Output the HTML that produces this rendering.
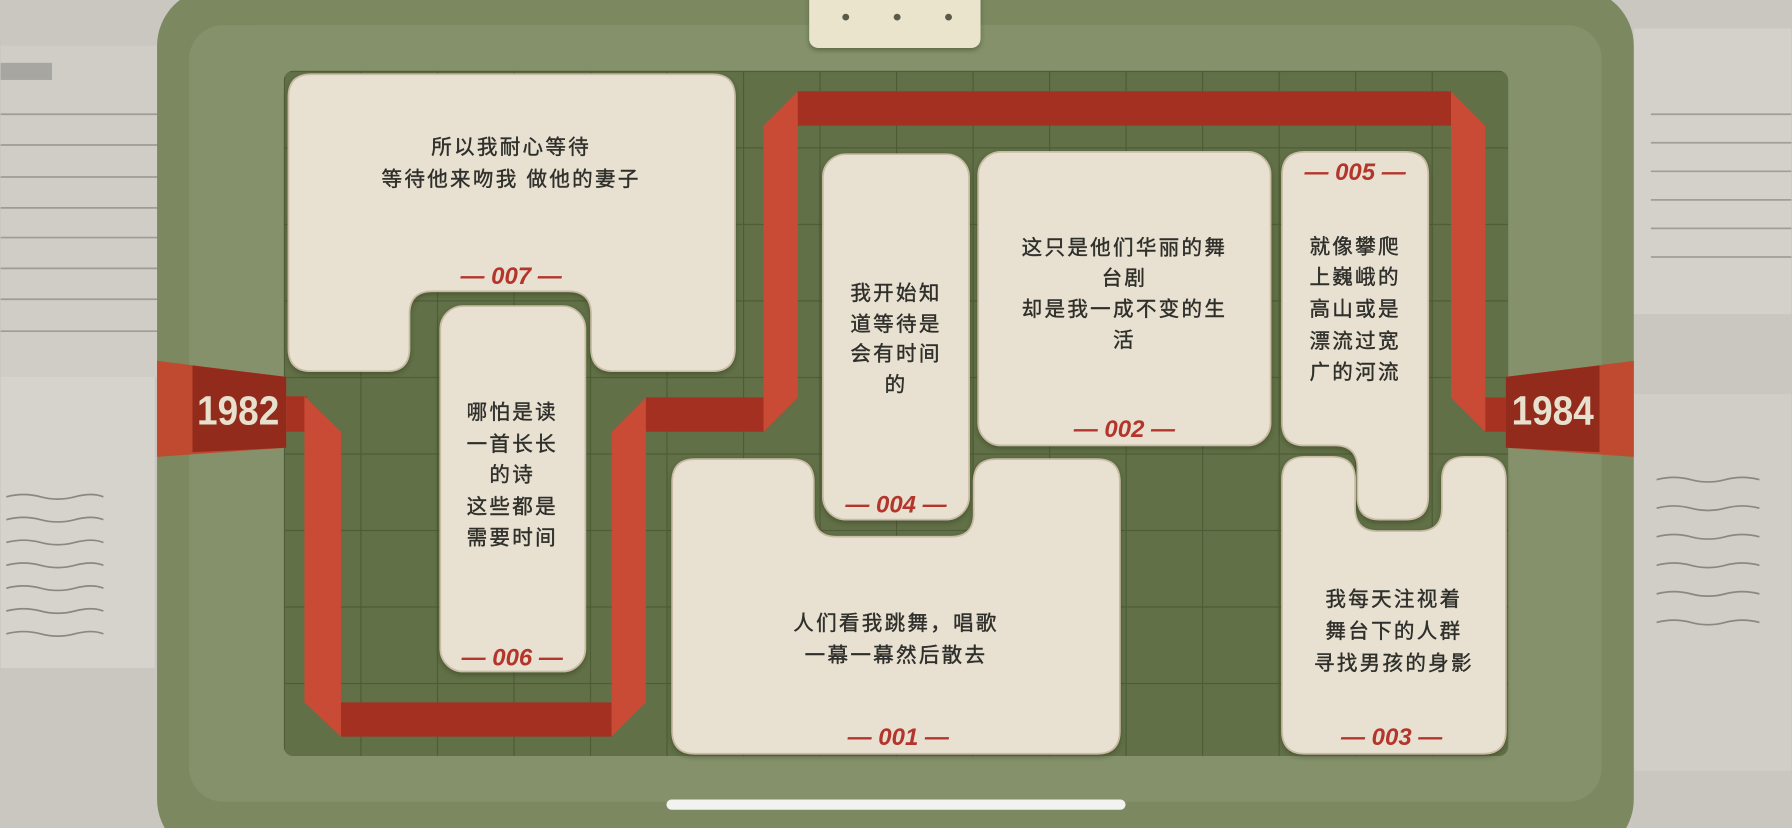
<!DOCTYPE html>
<html><head><meta charset="utf-8"><style>
html,body{margin:0;padding:0;width:1792px;height:828px;overflow:hidden;background:#c8c6bf}
svg{display:block}
.t{font-family:"Liberation Sans","Noto Sans CJK SC","WenQuanYi Zen Hei",sans-serif;font-size:18px;fill:#2f2f2b;stroke:#2f2f2b;stroke-width:0.35;text-anchor:middle;dominant-baseline:middle;letter-spacing:2px}
.n{font-family:"Liberation Sans",sans-serif;font-size:21px;font-style:italic;font-weight:bold;fill:#b4352b;text-anchor:middle;dominant-baseline:middle}
.y{font-family:"Liberation Sans",sans-serif;font-size:36px;font-weight:bold;fill:#e6e0cc;text-anchor:middle;dominant-baseline:middle}
</style></head><body>
<svg width="1792" height="828" viewBox="0 0 1568 725" xmlns="http://www.w3.org/2000/svg">
<defs>
<pattern id="g" x="248" y="62" width="67" height="67" patternUnits="userSpaceOnUse">
<rect width="67" height="67" fill="#617047"/>
<path d="M0 0H67M0 0V67" stroke="#4d5b36" stroke-width="2"/>
</pattern>
<filter id="sh" x="-10%" y="-10%" width="120%" height="120%"><feDropShadow dx="0" dy="2" stdDeviation="2" flood-color="#2a3318" flood-opacity="0.45"/></filter>
</defs>
<rect width="1568" height="725" fill="#c9c7c0"/>
<rect x="0" y="40" width="140" height="290" fill="#cfcdc6"/>
<g stroke="#9e9c96" stroke-width="1.5">
<path d="M0 100H140M0 127H140M0 155H140M0 182H140M0 208H140M0 235H140M0 262H140M0 290H140"/>
</g>
<rect x="0" y="55" width="45" height="15" fill="#a8a6a0"/>
<rect x="0" y="330" width="135" height="255" fill="#d5d3cc"/>
<g stroke="#8a8884" stroke-width="1.5" fill="none">
<path d="M5 495q15-4 30 0t30 0t25 0M5 515q15-4 30 0t30 0t25 0M5 535q15-4 30 0t30 0t25 0M5 555q15-4 30 0t30 0t25 0M5 475q15-4 30 0t30 0t25 0M5 455q15-4 30 0t30 0t25 0M5 435q15-4 30 0t30 0t25 0"/>
</g>
<rect x="1430" y="25" width="138" height="250" fill="#d3d1ca"/>
<g stroke="#a09e98" stroke-width="1.5"><path d="M1445 100H1568M1445 125H1568M1445 150H1568M1445 175H1568M1445 200H1568M1445 225H1568"/></g>
<rect x="1430" y="345" width="138" height="330" fill="#d0cec7"/>
<g stroke="#8a8884" stroke-width="1.5" fill="none"><path d="M1450 420q15-4 30 0t30 0t30 0M1450 445q15-4 30 0t30 0t30 0M1450 470q15-4 30 0t30 0t30 0M1450 495q15-4 30 0t30 0t30 0M1450 520q15-4 30 0t30 0t30 0M1450 545q15-4 30 0t30 0t30 0"/></g>
<rect x="137" y="-10" width="1293" height="760" rx="50" fill="#7b8860"/>
<rect x="165" y="22" width="1237" height="680" rx="30" fill="#84916a"/>
<rect x="248" y="62" width="1072" height="600" rx="8" fill="url(#g)"/>
<rect x="708" y="-10" width="150" height="52" rx="8" fill="#ebe4cc" filter="url(#sh)"/>
<circle cx="740" cy="15" r="3" fill="#5a5a4a"/><circle cx="785" cy="15" r="3" fill="#5a5a4a"/><circle cx="830" cy="15" r="3" fill="#5a5a4a"/>
<g>
<rect x="250" y="347" width="18" height="31" fill="#a83222"/>
<polygon points="266,347 298,378 298,645 266,615" fill="#c94b36"/>
<rect x="298" y="615" width="237" height="30" fill="#a33020"/>
<polygon points="535,378 565,348 565,615 535,645" fill="#c94b36"/>
<rect x="565" y="348" width="103" height="30" fill="#a33020"/>
<polygon points="668,110 698,80 698,348 668,378" fill="#c94b36"/>
<rect x="698" y="80" width="572" height="30" fill="#a33020"/>
<polygon points="1270,80 1300,110 1300,378 1270,348" fill="#c94b36"/>
<rect x="1300" y="348" width="20" height="30" fill="#a83222"/>
</g>
<polygon points="137,316 250,330 250,392 137,400" fill="#c04a30"/>
<polygon points="168,320 250,330 250,392 168,396" fill="#922b1c"/>
<text class="y" x="208" y="362" textLength="72" lengthAdjust="spacingAndGlyphs">1982</text>
<polygon points="1430,316 1318,330 1318,392 1430,400" fill="#c04a30"/>
<polygon points="1400,320 1318,330 1318,392 1400,396" fill="#922b1c"/>
<text class="y" x="1359" y="362" textLength="72" lengthAdjust="spacingAndGlyphs">1984</text>
<g fill="#e8e1d1" stroke="#c9bca4" stroke-width="1.5" filter="url(#sh)">
<path d="M272,65 H623 Q643,65 643,85 V305 Q643,325 623,325 H537 Q517,325 517,305 V275 Q517,255 497,255 H378 Q358,255 358,275 V305 Q358,325 338,325 H272 Q252,325 252,305 V85 Q252,65 272,65Z"/>
<rect x="385" y="268" width="127" height="320" rx="20"/>
<rect x="720" y="135" width="128" height="320" rx="20"/>
<path d="M608,402 H692 Q712,402 712,422 V450 Q712,470 732,470 H832 Q852,470 852,450 V422 Q852,402 872,402 H960 Q980,402 980,422 V640 Q980,660 960,660 H608 Q588,660 588,640 V422 Q588,402 608,402Z"/>
<rect x="856" y="133" width="256" height="257" rx="20"/>
<path d="M1142,133 H1230 Q1250,133 1250,153 V435 Q1250,455 1230,455 H1208 Q1188,455 1188,435 V410 Q1188,390 1168,390 H1142 Q1122,390 1122,370 V153 Q1122,133 1142,133Z"/>
<path d="M1142,400 H1166 Q1186,400 1186,420 V445 Q1186,465 1206,465 H1242 Q1262,465 1262,445 V420 Q1262,400 1282,400 H1298 Q1318,400 1318,420 V640 Q1318,660 1298,660 H1142 Q1122,660 1122,640 V420 Q1122,400 1142,400Z"/>
</g>
<text class="t" x="447" y="130">所以我耐心等待</text>
<text class="t" x="447" y="158">等待他来吻我 做他的妻子</text>
<text class="n" x="447" y="243">— 007 —</text>
<text class="t" x="448" y="362">哪怕是读</text>
<text class="t" x="448" y="390">一首长长</text>
<text class="t" x="448" y="417">的诗</text>
<text class="t" x="448" y="445">这些都是</text>
<text class="t" x="448" y="472">需要时间</text>
<text class="n" x="448" y="577">— 006 —</text>
<text class="t" x="784" y="258">我开始知</text>
<text class="t" x="784" y="285">道等待是</text>
<text class="t" x="784" y="311">会有时间</text>
<text class="t" x="784" y="338">的</text>
<text class="n" x="784" y="443">— 004 —</text>
<text class="t" x="984" y="218">这只是他们华丽的舞</text>
<text class="t" x="984" y="245">台剧</text>
<text class="t" x="984" y="272">却是我一成不变的生</text>
<text class="t" x="984" y="299">活</text>
<text class="n" x="984" y="377">— 002 —</text>
<text class="n" x="1186" y="152">— 005 —</text>
<text class="t" x="1186" y="217">就像攀爬</text>
<text class="t" x="1186" y="244">上巍峨的</text>
<text class="t" x="1186" y="272">高山或是</text>
<text class="t" x="1186" y="300">漂流过宽</text>
<text class="t" x="1186" y="327">广的河流</text>
<text class="t" x="1220" y="526">我每天注视着</text>
<text class="t" x="1220" y="554">舞台下的人群</text>
<text class="t" x="1220" y="582">寻找男孩的身影</text>
<text class="n" x="1218" y="647">— 003 —</text>
<text class="t" x="784" y="547">人们看我跳舞，唱歌</text>
<text class="t" x="784" y="575">一幕一幕然后散去</text>
<text class="n" x="786" y="647">— 001 —</text>
<rect x="583" y="700" width="402" height="9" rx="4.5" fill="#f2f2f0"/>
</svg>
</body></html>
